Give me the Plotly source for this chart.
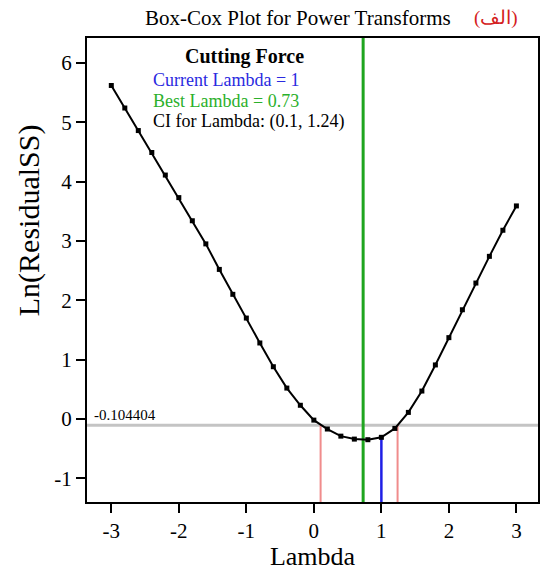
import plotly.graph_objects as go

lambdas = [round(-3 + 0.2 * i, 1) for i in range(31)]
ln_rss = [5.62, 5.24, 4.86, 4.49, 4.11, 3.73, 3.34, 2.95, 2.52, 2.10, 1.70, 1.28, 0.88,
          0.52, 0.23, -0.02, -0.17, -0.29, -0.34, -0.35, -0.31, -0.16, 0.11, 0.47,
          0.91, 1.37, 1.84, 2.29, 2.74, 3.18, 3.59]
threshold = -0.104404
best_lambda = 0.73
current_lambda = 1
ci_low, ci_high = 0.1, 1.24
current_value = -0.31
x_ticks = [-3, -2, -1, 0, 1, 2, 3]
y_ticks = [-1, 0, 1, 2, 3, 4, 5, 6]
x_range = [-3.36, 3.32]
y_range = [-1.40, 6.42]

FONT = "Liberation Serif"
fig = go.Figure()

# threshold horizontal line
fig.add_trace(go.Scatter(x=x_range, y=[threshold, threshold], mode="lines",
                         line=dict(color="#c4c4c4", width=3), hoverinfo="skip"))
# CI lines
for v in (ci_low, ci_high):
    fig.add_trace(go.Scatter(x=[v, v], y=[y_range[0], threshold], mode="lines",
                             line=dict(color="#f08c8c", width=2), hoverinfo="skip"))
# current lambda
fig.add_trace(go.Scatter(x=[current_lambda, current_lambda], y=[y_range[0], current_value],
                         mode="lines", line=dict(color="#1f1fe6", width=2.5), hoverinfo="skip"))
# best lambda
fig.add_trace(go.Scatter(x=[best_lambda, best_lambda], y=y_range, mode="lines",
                         line=dict(color="#1fa51f", width=3), hoverinfo="skip"))
# curve
fig.add_trace(go.Scatter(x=lambdas, y=ln_rss, mode="lines+markers",
                         line=dict(color="black", width=2),
                         marker=dict(symbol="square", size=5, color="black")))

axis_common = dict(showgrid=False, zeroline=False, showline=True, linecolor="black",
                   linewidth=2, mirror=True, ticks="outside", ticklen=9, tickwidth=2,
                   tickcolor="black",
                   tickfont=dict(family=FONT, size=21, color="black"))
fig.update_xaxes(range=x_range, tickvals=x_ticks, ticktext=[str(v) for v in x_ticks],
                 title=dict(text="Lambda", font=dict(family=FONT, size=26, color="black"),
                            standoff=2), **axis_common)
fig.update_yaxes(range=y_range, tickvals=y_ticks, ticktext=[str(v) for v in y_ticks],
                 **axis_common)

def px_x(p):
    return (p - 87) / 453

def px_y(p):
    return 1 - (p - 38) / 464

anns = [
    dict(x=px_x(299), y=px_y(18), text="Box-Cox Plot for Power Transforms",
         font=dict(family=FONT, size=21, color="black")),
    dict(x=px_x(498), y=px_y(18), text="(الف)",
         font=dict(family=FONT, size=19, color="#d42020")),
    dict(x=px_x(29), y=px_y(220), text="Ln(ResidualSS)", textangle=-90,
         font=dict(family=FONT, size=30, color="black")),
]
for a in anns:
    a.update(xref="paper", yref="paper", showarrow=False, xanchor="center", yanchor="middle")

legend_lines = [
    ("<b>Cutting Force</b>", 245, 57, "black", 20, "center"),
    ("Current Lambda = 1", 151, 80, "#2a2ae0", 18, "left"),
    ("Best Lambda = 0.73", 151, 101, "#2bb02b", 18, "left"),
    ("CI for Lambda: (0.1, 1.24)", 151, 122, "black", 18, "left"),
]
for text, px, py, col, sz, anc in legend_lines:
    anns.append(dict(xref="paper", yref="paper", x=px_x(px), y=px_y(py),
                     text=text, showarrow=False, font=dict(family=FONT, size=sz, color=col),
                     xanchor=anc, yanchor="middle"))
anns.append(dict(xref="paper", yref="y", x=0.01, y=threshold, text=str(threshold),
                 showarrow=False, font=dict(family=FONT, size=15, color="black"),
                 xanchor="left", yanchor="bottom", yshift=0))

fig.update_layout(width=544, height=571, margin=dict(l=87, r=4, t=38, b=69),
                  plot_bgcolor="white", paper_bgcolor="white", showlegend=False,
                  annotations=anns)

fig.write_html("out.html")
